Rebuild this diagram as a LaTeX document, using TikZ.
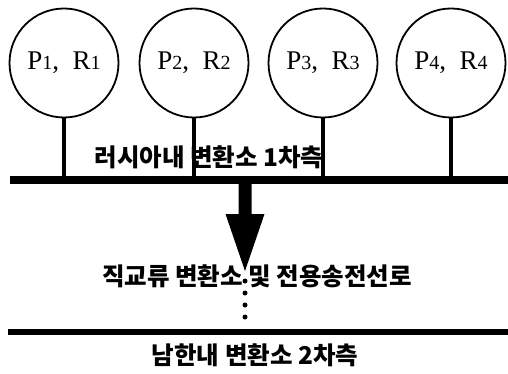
\documentclass[tikz,border=0pt]{standalone}
\usepackage{fontspec}
\usetikzlibrary{calc}
\setmainfont{Liberation Serif}
\newfontfamily\kr{Noto Sans CJK KR}
\begin{document}
\begin{tikzpicture}[x=1pt,y=-1pt,
  unit/.style={circle,draw,line width=1.8pt,minimum size=109pt,inner sep=0pt,font=\fontsize{27}{30}\selectfont},
  stem/.style={line width=3.2pt},
  bus/.style={line width=7pt},
  lbl/.style={font=\kr\bfseries\fontsize{24.5}{26}\selectfont,inner sep=0pt},
  dot/.style={circle,fill,inner sep=0pt,minimum size=5pt}]
\newcommand{\sbs}[1]{{\fontsize{20}{20}\selectfont #1}}
\useasboundingbox (0,0) rectangle (508,374);
\node[unit] (c1) at (64,63) {P\sbs{1},\ \ R\sbs{1}};
\node[unit] (c2) at (194,63) {P\sbs{2},\ \ R\sbs{2}};
\node[unit] (c3) at (323,63) {P\sbs{3},\ \ R\sbs{3}};
\node[unit] (c4) at (451,63) {P\sbs{4},\ \ R\sbs{4}};
\coordinate (b1l) at (10,180);
\coordinate (b1r) at (508,180);
\coordinate (b2l) at (8,332);
\coordinate (b2r) at (508,332);
\draw[bus] (b1l) -- (b1r);
\draw[line width=6pt] (b2l) -- (b2r);
\foreach \i in {1,...,4} \draw[stem] (c\i.south) -- (c\i.south |- b1l);
\node[lbl] (t1) at (209,157) {러시아내 변환소 1차측};
\node[lbl] (t2) at (257,276) {직교류 변환소 및 전용송전선로};
\node[lbl] (t3) at (255,355) {남한내 변환소 2차측};
% arrow
\coordinate (a0) at (245,180);
\coordinate (a1) at (245,214);
\coordinate (atip) at (245,271);
\fill ($(a0)+(-6.5,0)$) -- ($(a1)+(-6.5,0)$) -- ($(a1)+(-19.5,0)$) -- (atip) -- ($(a1)+(19.5,0)$) -- ($(a1)+(6.5,0)$) -- ($(a0)+(6.5,0)$) -- cycle;
\foreach \y [count=\k] in {281,293,305,317} \node[dot] (d\k) at (245,\y) {};
\end{tikzpicture}
\end{document}
